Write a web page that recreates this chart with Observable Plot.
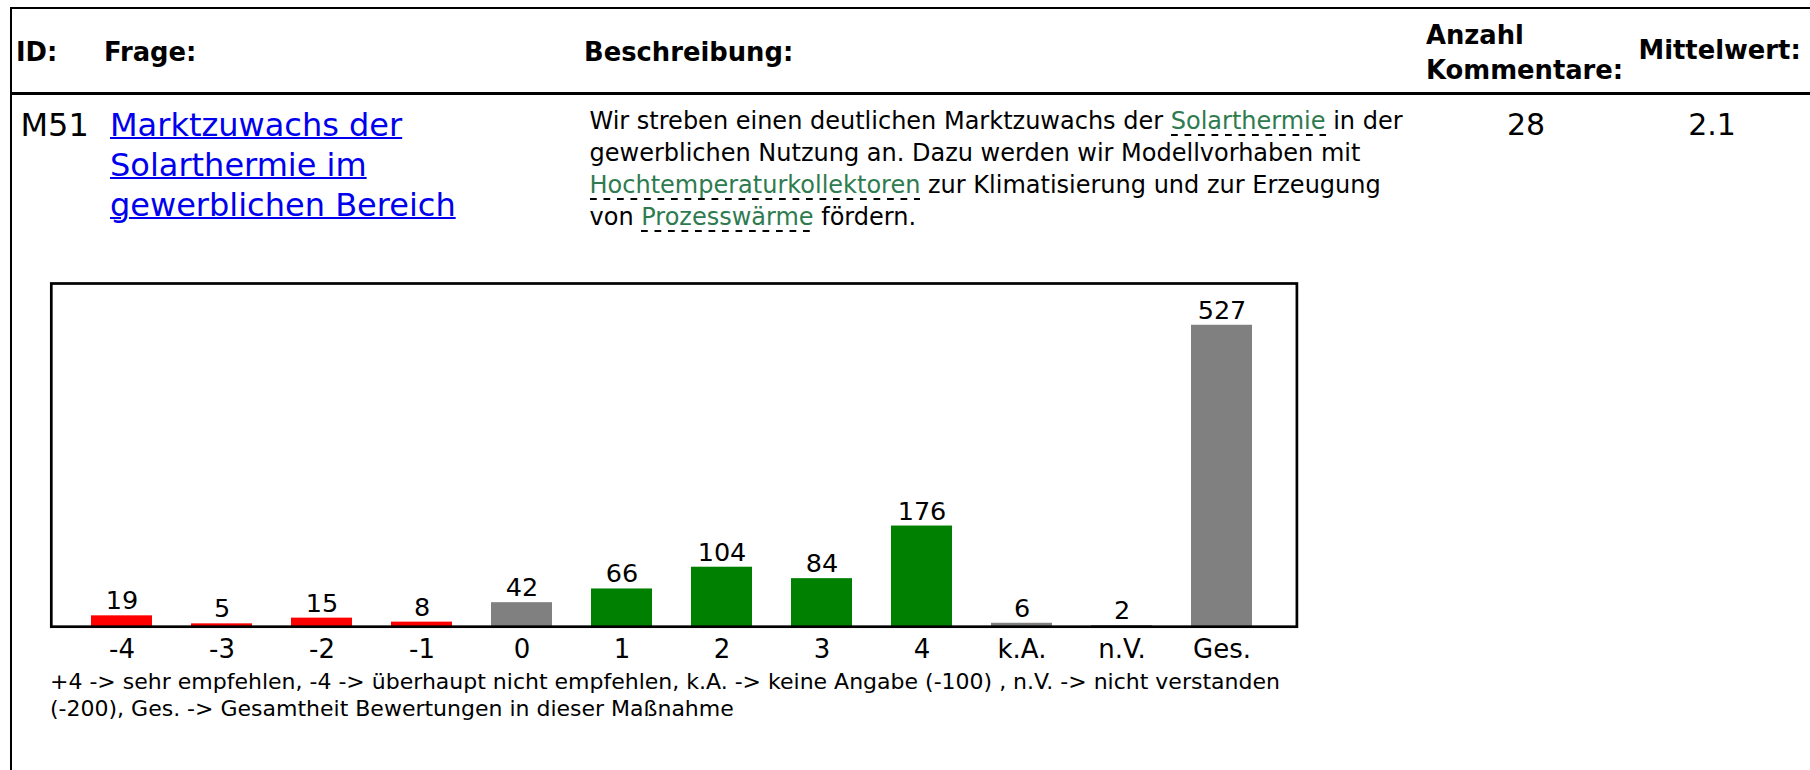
<!DOCTYPE html>
<html><head><meta charset="utf-8">
<script src="https://cdn.jsdelivr.net/npm/d3@7"></script>
<script src="https://cdn.jsdelivr.net/npm/@observablehq/plot@0.6"></script>
<style>
html,body{margin:0;padding:0;background:#fff;width:1810px;height:770px;overflow:hidden;font-family:"DejaVu Sans",sans-serif;color:#000;}
.abs{position:absolute;white-space:nowrap;}
.hline{position:absolute;background:#000;}
.hd{font-weight:bold;font-size:25.8px;line-height:30px;}
.big{font-size:32px;line-height:40px;}
.desc{font-size:24px;line-height:32px;}
.term{color:#2e7b4f;background-image:linear-gradient(to right,#000 0,#000 6.5px,transparent 6.5px,transparent 13.5px);background-size:13.5px 2px;background-repeat:repeat-x;background-position:left bottom;padding-bottom:0.5px;}
a{color:#0000ee;text-decoration:underline;text-decoration-thickness:2px;}
.cap{font-size:22px;line-height:26.5px;}
.num{font-size:30px;line-height:40px;text-align:center;width:200px;}
</style>
</head><body>
<div class="hline" style="left:10px;top:6.6px;width:1800px;height:2.4px"></div>
<div class="hline" style="left:10px;top:6.6px;width:2px;height:770px"></div>
<div class="hline" style="left:10px;top:92px;width:1800px;height:2.7px"></div>

<div class="abs hd" style="left:16px;top:36.6px">ID:</div>
<div class="abs hd" style="left:104px;top:36.6px">Frage:</div>
<div class="abs hd" style="left:584px;top:36.6px">Beschreibung:</div>
<div class="abs hd" style="left:1426px;top:18.3px;line-height:34.5px">Anzahl<br>Kommentare:</div>
<div class="abs hd" style="left:1638.5px;top:35.4px">Mittelwert:</div>

<div class="abs big" style="left:20.5px;top:105.2px">M51</div>
<div class="abs big" style="left:110px;top:105.2px"><a href="#">Marktzuwachs der<br>Solarthermie im<br>gewerblichen Bereich</a></div>
<div class="abs desc" style="left:589.5px;top:105px">Wir streben einen deutlichen Marktzuwachs der <span class="term">Solarthermie</span> in der<br>gewerblichen Nutzung an. Dazu werden wir Modellvorhaben mit<br><span class="term">Hochtemperaturkollektoren</span> zur Klimatisierung und zur Erzeugung<br>von <span class="term">Prozesswärme</span> fördern.</div>
<div class="abs num" id="kom" style="left:1426px;top:104.6px"></div>
<div class="abs num" id="mit" style="left:1612px;top:104.6px"></div>

<div id="chart" class="abs" style="left:0;top:270px"></div>
<div class="abs cap" style="left:50px;top:669.3px">+4 -&gt; sehr empfehlen, -4 -&gt; überhaupt nicht empfehlen, k.A. -&gt; keine Angabe (-100) , n.V. -&gt; nicht verstanden<br>(-200), Ges. -&gt; Gesamtheit Bewertungen in dieser Maßnahme</div>

<script>
const categories = ["-4","-3","-2","-1","0","1","2","3","4","k.A.","n.V.","Ges."];
const counts = [19,5,15,8,42,66,104,84,176,6,2,527];
const groups = ["negativ","negativ","negativ","negativ","neutral","positiv","positiv","positiv","positiv","sonstige","sonstige","sonstige"];
const groupDomain = ["negativ","neutral","positiv","sonstige"];
const groupColors = ["#ff0000","#808080","#008000","#808080"];
const yMax = 600;
const anzahlKommentare = 28;
const mittelwert = "2.1";

document.getElementById("kom").textContent = anzahlKommentare;
document.getElementById("mit").textContent = mittelwert;

const data = categories.map((c, i) => ({cat: c, n: counts[i], group: groups[i]}));

const chart = Plot.plot({
  width: 1320, height: 400,
  marginLeft: 50.8, marginRight: 23.6, marginTop: 13, marginBottom: 43.8,
  style: {fontFamily: '"DejaVu Sans", sans-serif', fontSize: "26px", color: "#000", background: "transparent", overflow: "visible"},
  x: {domain: categories, paddingInner: 0.39, paddingOuter: 0.418, align: 0.48, label: null},
  y: {domain: [0, yMax], axis: null},
  color: {domain: groupDomain, range: groupColors},
  marks: [
    Plot.barY(data, {x: "cat", y: "n", fill: "group"}),
    Plot.text(data, {x: "cat", y: "n", text: d => String(d.n), lineAnchor: "bottom", dy: -6.5, fontSize: 25.5, fill: "#000"}),
    Plot.frame({stroke: "#000", strokeWidth: 2.7}),
    Plot.axisX({tickSize: 0, tickPadding: 12.5, fontSize: 26, label: null})
  ]
});
document.getElementById("chart").appendChild(chart);
</script>
</body></html>
